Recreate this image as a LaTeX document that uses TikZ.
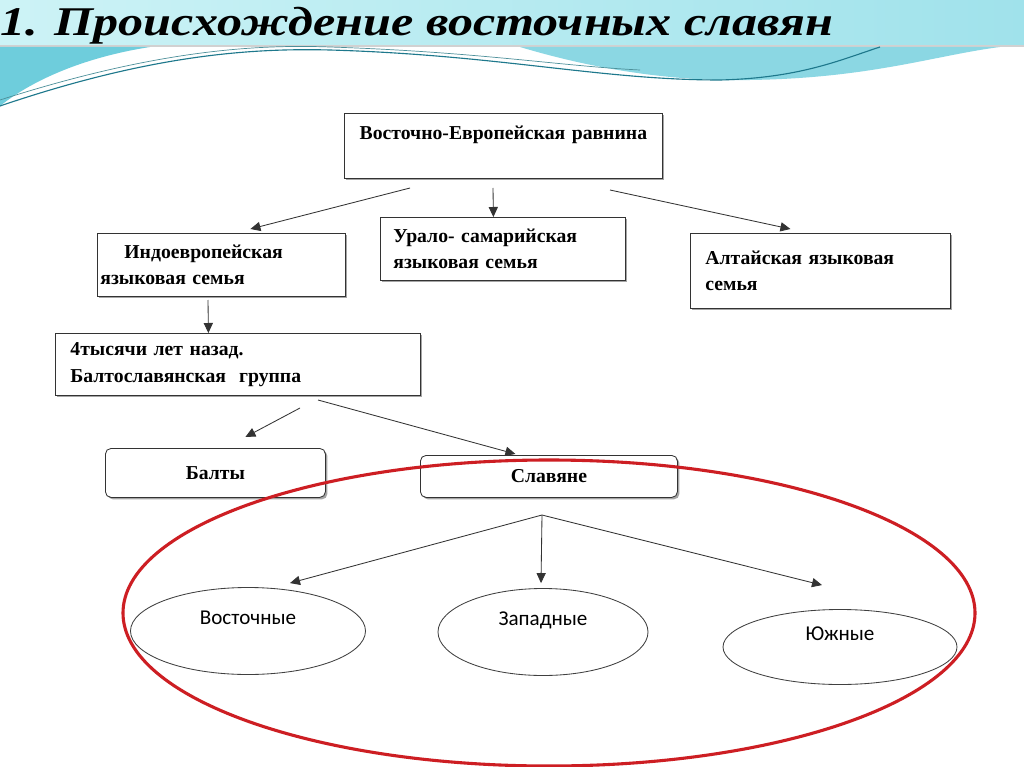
\documentclass[tikz,border=0pt]{standalone}
\usepackage{fontspec}
\setmainfont{Liberation Serif}
\newfontfamily\ovalfont{Carlito}
\usetikzlibrary{arrows.meta,shadows,shapes.geometric,positioning}

\newlength\pxu
\setlength\pxu{0.025cm}

\definecolor{bandleft}{RGB}{205,243,246}
\definecolor{bandright}{RGB}{160,226,235}
\definecolor{wavecyan}{RGB}{110,205,220}
\definecolor{waveteal}{RGB}{30,120,140}
\definecolor{ringred}{RGB}{205,30,35}

\tikzset{
  box/.style={draw=black!80, fill=white, line width=0.6pt, anchor=north west,
    drop shadow={shadow xshift=0.5mm, shadow yshift=-0.5mm, fill=black!50, opacity=.7},
    font=\fontsize{14}{19}\selectfont\bfseries, align=left, inner ysep=2pt},
  softbox/.style={box, rounded corners=4pt, align=center, inner xsep=0pt},
  oval/.style={ellipse, draw=black!75, line width=0.6pt, fill=white, inner sep=0pt,
    font=\ovalfont\fontsize{15}{19}\selectfont, align=center},
  arr/.style={draw=black!80, line width=0.6pt, -{Triangle[length=2.5mm,width=2.3mm]}},
  titletext/.style={font=\fontsize{29}{31}\selectfont\bfseries\itshape, inner sep=0pt, xscale=1.23}
}

\begin{document}
\begin{tikzpicture}[x=0.025cm, y=-0.025cm]
  \useasboundingbox (0,0) rectangle (1024,767);
  \fill[white] (0,0) rectangle (1024,767);

  % title band and waves
  \shade[left color=bandleft, right color=bandright] (0,0) rectangle (1024,45);
  \fill[black!18] (0,45) rectangle (1024,47);
  \fill[wavecyan] (0,47) -- (150,47) .. controls (80,58) and (30,82) .. (0,106) -- cycle;
  \fill[wavecyan!80] (520,47) -- (1000,47) .. controls (930,56) and (860,82) .. (720,80)
    .. controls (640,78) and (570,62) .. (520,47) -- cycle;
  \draw[waveteal, line width=0.8pt] (0,106) .. controls (150,55) and (250,48) .. (330,50)
    .. controls (500,55) and (600,80) .. (720,80) .. controls (800,78) and (840,60) .. (880,47);
  \draw[wavecyan!70!black, line width=0.5pt] (0,100) .. controls (150,52) and (250,44) .. (330,47)
    .. controls (480,52) and (560,66) .. (640,70);
  \node[titletext, anchor=base west] (title) at (0,36) {1. Происхождение восточных славян};

  % boxes
  \node[box, align=center, inner xsep=0pt, text width=318\pxu, minimum height=65\pxu]
    (plain) at (344,113) {Восточно-Европейская равнина\\ \mbox{}};
  \node[box, inner xsep=3\pxu, text width=242\pxu, minimum height=63\pxu]
    (indo) at (97,233) {\hspace*{24\pxu}Индоевропейская\\языковая семья};
  \node[box, inner xsep=13\pxu, text width=219\pxu, minimum height=63\pxu]
    (ural) at (380,217) {Урало- самарийская\\языковая семья};
  \node[box, inner xsep=15\pxu, text width=230\pxu, minimum height=75\pxu]
    (altai) at (690,233) {Алтайская языковая\\семья};
  \node[box, inner xsep=15\pxu, text width=335\pxu, minimum height=62\pxu]
    (group) at (55,333) {4тысячи лет назад.\\Балтославянская\ \ группа};
  \node[softbox, text width=220\pxu, minimum height=49\pxu] (balts) at (105,448) {Балты};
  \node[softbox, text width=257\pxu, minimum height=42\pxu] (slavs) at (420,455) {Славяне};

  % ovals
  \node[oval, minimum width=235\pxu, minimum height=87\pxu] (east) at (248,631) {Восточные\\ \mbox{}};
  \node[oval, minimum width=210\pxu, minimum height=87\pxu] (west) at (543,632) {Западные\\ \mbox{}};
  \node[oval, minimum width=234\pxu, minimum height=75\pxu] (south) at (840,647) {Южные\\ \mbox{}};
  \draw[ringred, line width=2.2pt] (549,613) ellipse [x radius=426, y radius=153];

  % arrows
  \coordinate (plainL) at (410,188);
  \coordinate (plainM) at (493,188);
  \coordinate (plainR) at (610,190);
  \coordinate (indoB) at (208,300);
  \coordinate (groupL) at (300,408);
  \coordinate (groupR) at (318,400);
  \coordinate (slavsB) at (542,515);
  \draw[arr] (plainL) -- ([shift={(29,-4)}]indo.north);
  \draw[arr] (plainM) -- ([shift={(-9.5,0)}]ural.north);
  \draw[arr] (plainR) -- ([shift={(-30,-4)}]altai.north);
  \draw[arr] (indoB) -- ([shift={(-29.5,0)}]group.north);
  \draw[arr] (groupL) -- ([shift={(30,-11)}]balts.north);
  \draw[arr] (groupR) -- ([shift={(-33.5,-1)}]slavs.north);
  \draw[arr] (slavsB) -- ([shift={(42,-4)}]east.north);
  \draw[arr] (slavsB) -- ([shift={(-2,-5)}]west.north);
  \draw[arr] (slavsB) -- ([shift={(-18,-24)}]south.north);
\end{tikzpicture}
\end{document}
